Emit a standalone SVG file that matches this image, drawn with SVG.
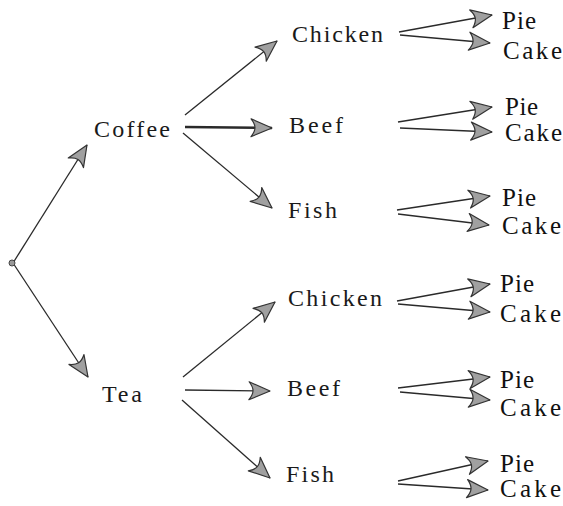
<svg xmlns="http://www.w3.org/2000/svg" width="563" height="506" viewBox="0 0 563 506">
  <style>
    .lbl { font-family: "Liberation Serif", "DejaVu Serif", serif; font-size: 24px; fill: #1a1a1a; }
    .end { font-family: "Liberation Serif", "DejaVu Serif", serif; font-size: 25px; fill: #111; }
    .edge { stroke: #2a2a2a; stroke-width: 1.3; fill: none; marker-end: url(#dart); }
    .thick { stroke-width: 2.6; }
  </style>
  <defs>
    <marker id="dart" markerUnits="userSpaceOnUse" markerWidth="30" markerHeight="24" refX="23" refY="10" orient="auto">
      <path d="M23,10 L2,1 Q6,6 6,10 Q6,14 2,19 Z" fill="#a0a0a0" stroke="#333" stroke-width="1.2" stroke-linejoin="round"/>
    </marker>
  </defs>
  <rect width="563" height="506" fill="#ffffff"/>

  <g id="connectors">
    <!-- root branches -->
    <line class="edge" x1="13" y1="263" x2="87" y2="145"/>
    <line class="edge" x1="13" y1="263" x2="88" y2="377"/>
    <!-- from Coffee -->
    <line class="edge" x1="185" y1="115" x2="277" y2="41"/>
    <line class="edge thick" x1="185" y1="127" x2="272" y2="128"/>
    <line class="edge" x1="183" y1="133" x2="272" y2="208"/>
    <!-- from Tea -->
    <line class="edge" x1="183" y1="377" x2="275" y2="302"/>
    <line class="edge" x1="185" y1="390" x2="270" y2="391"/>
    <line class="edge" x1="182" y1="400" x2="270" y2="478"/>
    <!-- dessert pairs -->
    <line class="edge" x1="399" y1="32" x2="492" y2="15"/>
    <line class="edge" x1="400" y1="35" x2="490" y2="43"/>
    <line class="edge" x1="398" y1="122" x2="492" y2="107"/>
    <line class="edge" x1="400" y1="128" x2="492" y2="132"/>
    <line class="edge" x1="397" y1="210" x2="490" y2="196"/>
    <line class="edge" x1="398" y1="214" x2="489" y2="225"/>
    <line class="edge" x1="397" y1="301" x2="490" y2="284"/>
    <line class="edge" x1="398" y1="304" x2="490" y2="312"/>
    <line class="edge" x1="398" y1="388" x2="490" y2="377"/>
    <line class="edge" x1="400" y1="392" x2="490" y2="400"/>
    <line class="edge" x1="398" y1="481" x2="488" y2="461"/>
    <line class="edge" x1="398" y1="484" x2="488" y2="490"/>
  </g>

  <g id="root"><circle cx="12" cy="263" r="3" fill="#999" stroke="#444" stroke-width="1"/></g>

  <g id="coffee"><text class="lbl" x="94" y="137" textLength="76" lengthAdjust="spacing">Coffee</text></g>
  <g id="tea"><text class="lbl" x="102" y="402" textLength="40" lengthAdjust="spacing">Tea</text></g>

  <g id="coffee-chicken"><text class="lbl" x="292" y="42" textLength="91" lengthAdjust="spacing">Chicken</text></g>
  <g id="coffee-beef"><text class="lbl" x="289" y="133" textLength="54" lengthAdjust="spacing">Beef</text></g>
  <g id="coffee-fish"><text class="lbl" x="288" y="218" textLength="49" lengthAdjust="spacing">Fish</text></g>
  <g id="tea-chicken"><text class="lbl" x="288" y="306" textLength="94" lengthAdjust="spacing">Chicken</text></g>
  <g id="tea-beef"><text class="lbl" x="287" y="396" textLength="53" lengthAdjust="spacing">Beef</text></g>
  <g id="tea-fish"><text class="lbl" x="286" y="482" textLength="48" lengthAdjust="spacing">Fish</text></g>

  <g id="desserts-1">
    <text class="end" x="502" y="29" textLength="34" lengthAdjust="spacing">Pie</text>
    <text class="end" x="503" y="59" textLength="59" lengthAdjust="spacing">Cake</text>
  </g>
  <g id="desserts-2">
    <text class="end" x="505" y="115" textLength="33" lengthAdjust="spacing">Pie</text>
    <text class="end" x="505" y="141" textLength="57" lengthAdjust="spacing">Cake</text>
  </g>
  <g id="desserts-3">
    <text class="end" x="502" y="206" textLength="34" lengthAdjust="spacing">Pie</text>
    <text class="end" x="502" y="234" textLength="59" lengthAdjust="spacing">Cake</text>
  </g>
  <g id="desserts-4">
    <text class="end" x="500" y="292" textLength="34" lengthAdjust="spacing">Pie</text>
    <text class="end" x="500" y="322" textLength="61" lengthAdjust="spacing">Cake</text>
  </g>
  <g id="desserts-5">
    <text class="end" x="500" y="388" textLength="34" lengthAdjust="spacing">Pie</text>
    <text class="end" x="500" y="416" textLength="61" lengthAdjust="spacing">Cake</text>
  </g>
  <g id="desserts-6">
    <text class="end" x="500" y="472" textLength="34" lengthAdjust="spacing">Pie</text>
    <text class="end" x="500" y="497" textLength="61" lengthAdjust="spacing">Cake</text>
  </g>
</svg>
